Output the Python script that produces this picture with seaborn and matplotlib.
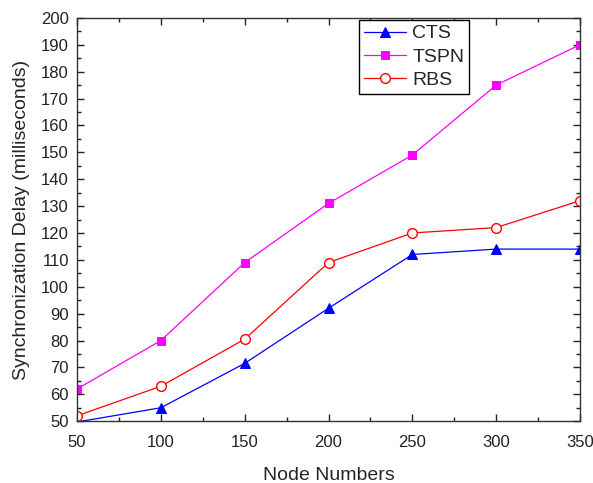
import matplotlib
matplotlib.use('Agg')
import matplotlib.pyplot as plt
import seaborn as sns
import pandas as pd
from matplotlib.ticker import MultipleLocator

# data
nodes = [50, 100, 150, 200, 250, 300, 350]
cts = [49.7, 55, 71.5, 92, 112, 114, 114]
tspn = [62, 80, 109, 131, 149, 175, 190]
rbs = [52, 63, 80.5, 109, 120, 122, 132]

sns.set_style('ticks')
plt.rcParams['font.family'] = ['Liberation Sans', 'DejaVu Sans']
plt.rcParams['xtick.direction'] = 'in'
plt.rcParams['ytick.direction'] = 'in'

df = pd.DataFrame({'nodes': nodes, 'CTS': cts, 'TSPN': tspn, 'RBS': rbs})

fig = plt.figure(figsize=(5.93, 4.83), dpi=100)
ax = fig.add_axes([0.130, 0.128, 0.848, 0.835])

sns.lineplot(data=df, x='nodes', y='CTS', ax=ax, color='#0000FF', marker='^',
             markersize=7.5, markeredgecolor='#0000FF', linewidth=0.9, label='CTS')
sns.lineplot(data=df, x='nodes', y='TSPN', ax=ax, color='#FF00FF', marker='s',
             markersize=6, markeredgecolor='#FF00FF', linewidth=0.9, label='TSPN')
sns.lineplot(data=df, x='nodes', y='RBS', ax=ax, color='#FF0000', marker='o',
             markersize=7, markerfacecolor='white', markeredgecolor='#FF0000',
             markeredgewidth=1.0, linewidth=0.9, label='RBS')

ax.set_xlim(50, 350)
ax.set_ylim(50, 200)
ax.xaxis.set_major_locator(MultipleLocator(50))
ax.xaxis.set_minor_locator(MultipleLocator(25))
ax.yaxis.set_major_locator(MultipleLocator(10))
ax.yaxis.set_minor_locator(MultipleLocator(5))
ax.tick_params(which='both', top=True, right=True, labelsize=12, colors='#222222')
ax.tick_params(which='major', length=5, width=1)
ax.tick_params(which='minor', length=3, width=1)
ax.tick_params(axis='x', which='major', pad=10)
ax.tick_params(axis='y', which='major', pad=6)
for s in ax.spines.values():
    s.set_linewidth(1)
    s.set_color('#333333')

ax.set_xlabel('Node Numbers', fontsize=14, labelpad=12)
ax.set_ylabel('Synchronization Delay (milliseconds)', fontsize=14, labelpad=8)

leg = ax.legend(loc='upper left', bbox_to_anchor=(0.56, 0.995), fancybox=False,
                framealpha=1, edgecolor='black', fontsize=14, borderpad=0.25,
                labelspacing=0.3, handlelength=2.2, handletextpad=0.3,
                borderaxespad=0)
leg.get_frame().set_linewidth(1)

plt.savefig('out.png', dpi=100)
